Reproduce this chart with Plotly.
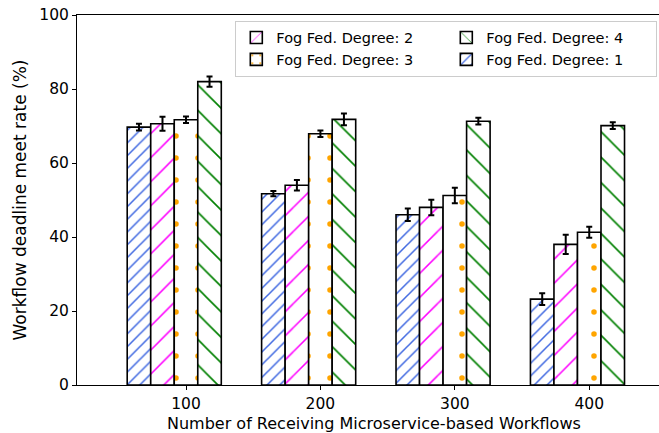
import plotly.graph_objects as go

categories = [100, 200, 300, 400]
series_names = ["Fog Fed. Degree: 1", "Fog Fed. Degree: 2", "Fog Fed. Degree: 3", "Fog Fed. Degree: 4"]
deg1 = [69.7, 51.7, 46.0, 23.2]
deg1_err = [0.9, 0.7, 1.7, 1.6]
deg2 = [70.6, 54.0, 48.0, 38.0]
deg2_err = [1.9, 1.4, 2.1, 2.6]
deg3 = [71.7, 67.9, 51.2, 41.3]
deg3_err = [0.9, 0.9, 2.1, 1.5]
deg4 = [82.0, 71.8, 71.3, 70.1]
deg4_err = [1.4, 1.6, 0.9, 0.9]
x_title = "Number of Receiving Microservice-based Workflows"
y_title = "Workflow deadline meet rate (%)"

values = [deg1, deg2, deg3, deg4]
errors = [deg1_err, deg2_err, deg3_err, deg4_err]
colors = ["#4169E1", "#FF00FF", "#FFA500", "#008000"]
shapes = ["/", "/", ".", "\\"]
psizes = [9, 17, 22, 18]
psolid = [0.17, 0.09, 0.05, 0.09]
ranks = [4, 1, 3, 2]

W = 17.5
fig = go.Figure()
for i in range(4):
    fig.add_trace(go.Bar(
        x=categories, y=values[i], name=series_names[i],
        width=W, offset=(-2.5 + i) * W,
        marker=dict(color="white", line=dict(color="black", width=1.6),
                    pattern=dict(shape=shapes[i], fgcolor=colors[i], bgcolor="white",
                                 fgopacity=1, size=psizes[i], solidity=psolid[i], fillmode="replace")),
        error_y=dict(type="data", array=errors[i], color="black", thickness=2, width=3),
        legendrank=ranks[i],
    ))

fig.add_annotation(text=x_title, xref="paper", yref="paper", x=0.51, y=0,
                   yshift=-28, xanchor="center", yanchor="top", showarrow=False,
                   font=dict(size=16), borderpad=0)

fig.update_layout(
    width=659, height=433,
    margin=dict(l=77, r=0, t=15, b=48),
    plot_bgcolor="white", paper_bgcolor="white",
    font=dict(family="DejaVu Sans", size=14, color="black"),
    barmode="overlay",
    showlegend=True,
    legend=dict(orientation="h", x=0.272, y=0.985, xanchor="left", yanchor="top",
                entrywidth=165, entrywidthmode="pixels",
                bgcolor="white", bordercolor="#cccccc", borderwidth=1,
                font=dict(size=14.5), traceorder="normal", tracegroupgap=0),
    xaxis=dict(range=[18.9, 451.9], tickvals=categories, ticktext=[str(c) for c in categories],
               showline=True, linecolor="black", linewidth=1, mirror=True,
               ticks="outside", ticklen=4, tickcolor="black", showgrid=False, zeroline=False,
               tickfont=dict(size=15.5)),
    yaxis=dict(range=[0, 100], tickvals=[0, 20, 40, 60, 80, 100],
               showline=True, linecolor="black", linewidth=1,
               ticks="outside", ticklen=4, tickcolor="black", showgrid=False, zeroline=False,
               tickfont=dict(size=15.5),
               title=dict(text=y_title, standoff=8, font=dict(size=17))),
)

fig.write_html("out.html")
